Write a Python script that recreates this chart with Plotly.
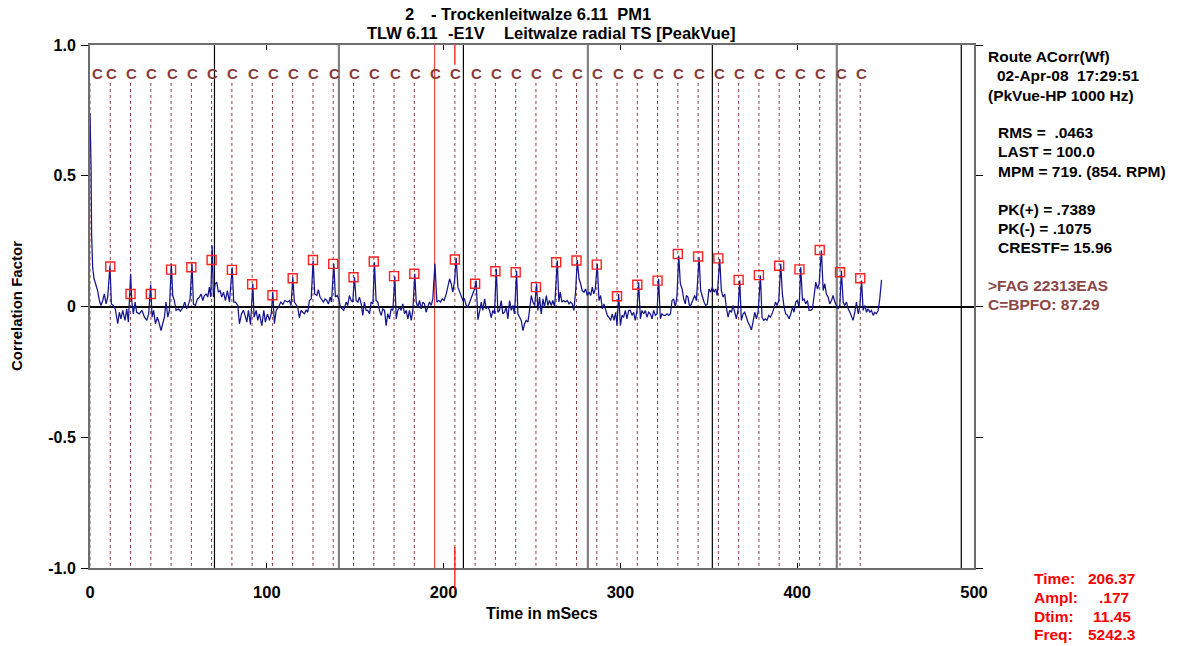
import plotly.graph_objects as go

# ---------------- data ----------------
wave_t = [0.0, 0.6, 0.9, 1.5, 2.3, 2.8, 3.4, 4.3, 5.3, 6.2, 7.2, 8.1, 9.1, 10.0, 11.3, 12.1, 13.2, 14.3, 15.7, 16.6,
          17.5, 18.5, 19.8, 20.8, 21.7, 23.0, 23.6, 24.5, 25.5, 26.4, 27.9, 29.4, 30.8, 32.1, 33.2, 34.3, 35.1, 36.0,
          37.0, 38.1, 39.2, 40.2, 41.1, 42.1, 43.0, 44.0, 44.9, 46.0, 46.8, 47.7, 48.7, 50.0, 51.1, 52.5, 53.6, 54.7,
          55.8, 56.6, 57.7, 58.5, 59.6, 60.8, 61.9, 62.8, 63.8, 64.7, 65.7, 66.6, 67.5, 68.3, 69.1, 69.8, 70.8, 71.7,
          72.6, 73.6, 74.5, 75.5, 76.6, 77.7, 78.9, 80.4, 81.3, 82.3, 83.6, 84.5, 85.7, 86.8, 87.7, 88.7, 89.6, 90.8,
          92.1, 92.8, 94.0, 94.9, 95.8, 97.2, 98.3, 99.2, 100.4, 101.5, 102.5, 103.4, 104.3, 105.3, 106.8, 107.9,
          109.1, 110.2,
          111.8, 112.8, 113.7, 114.7, 115.6, 116.6, 117.5, 118.4, 119.4, 120.3, 121.3, 122.2, 123.2, 124.1, 125.1,
          126.2, 127.1, 128.3, 129.2, 130.1, 131.1, 132.0, 133.0, 133.9, 134.9, 135.8, 136.6, 137.9, 138.8, 139.8,
          140.7, 141.7, 142.6, 143.5, 144.9, 145.8, 146.7, 147.7, 148.6, 149.6, 150.5, 151.5, 152.4, 153.4, 154.3,
          155.2, 156.2, 157.1, 158.1, 159.0, 160.0, 160.9, 161.8, 162.8, 163.7, 164.7, 165.6, 166.6, 167.5, 168.4,
          169.4, 170.3, 171.3, 172.4, 173.2, 174.1, 175.1, 176.0, 176.9, 177.9, 178.8, 179.8, 180.7, 181.7, 182.6,
          183.7, 184.5, 185.4, 186.4, 187.3, 188.3, 189.2, 190.1, 191.1, 192.0, 193.0, 193.9, 195.1, 196.2, 197.3,
          198.3, 199.2, 200.3, 201.5, 202.4, 203.4, 204.3, 205.2, 206.2, 207.1, 208.1, 209.0, 209.9, 210.9, 211.8,
          212.8, 213.7, 214.7, 215.6, 216.6, 217.5, 218.4, 219.4, 220.3, 221.3, 222.2, 223.2,
          224.1, 225.0, 226.0, 226.9, 227.9, 228.8, 229.8, 230.7, 231.6, 232.6, 233.5, 234.5, 235.4, 236.4, 237.3,
          238.3, 239.2, 240.1, 241.3, 242.0, 243.0, 243.9, 244.9, 245.8, 246.7, 247.7, 248.6, 249.6, 250.5, 251.5,
          252.6, 253.3, 254.3, 255.2, 256.2, 257.1, 258.1, 259.0, 259.9, 260.9, 261.8, 262.8, 264.3, 265.2, 266.0,
          266.9, 267.9, 268.8, 270.0, 270.9, 271.8, 272.8, 273.7, 274.7, 275.6, 276.6, 277.5, 278.4, 279.4, 280.3,
          281.3, 282.2, 283.2, 284.1, 284.9, 285.8, 286.9, 287.9, 288.8, 289.8, 290.7, 291.6, 292.6, 293.5, 294.5,
          295.4, 296.4, 297.3, 298.1, 299.0, 300.0, 300.9, 301.8, 302.8, 303.7, 304.7, 305.6, 306.6, 307.5, 308.4,
          309.4, 310.3, 311.3, 312.2, 313.2, 314.1, 315.0, 316.0, 316.9, 317.9, 318.8, 319.8, 320.7, 321.6, 322.6,
          323.5, 324.5, 325.4, 326.4, 327.3, 328.3, 329.2, 330.1, 331.1, 332.0, 333.0, 333.9, 334.9, 335.8, 336.7,
          337.3, 338.2, 339.2, 340.1, 341.1, 342.0, 343.0, 344.5, 345.4, 346.4, 347.3, 348.2, 349.2, 350.1, 351.1,
          352.0, 353.0, 353.9, 354.8, 356.2, 357.1, 358.1, 359.0, 359.9, 360.9, 361.8, 362.8, 363.7, 364.7, 365.6,
          366.5, 367.5, 368.4, 369.4, 370.3, 371.3, 372.2, 373.1, 374.1, 375.0, 376.0, 376.9, 377.9, 379.2, 380.1,
          381.1, 382.0, 382.9, 383.9, 384.8, 385.8, 386.7, 387.7, 388.6, 389.6, 390.7, 391.6, 392.6, 393.5, 394.5,
          395.4, 396.4, 397.3, 398.2, 399.2, 400.1, 401.1, 402.0, 403.0, 403.9, 404.8, 405.8, 406.7, 407.7, 408.6,
          409.6, 410.5, 411.5, 412.4, 413.7, 414.7, 415.6, 416.5, 417.5, 418.4, 419.4, 420.3, 421.3, 422.2, 423.1,
          424.1, 425.0, 426.0, 426.9, 427.9, 428.8, 429.8, 430.7, 431.6, 432.6, 433.5, 434.5, 435.4, 436.4, 437.3,
          438.2, 439.2, 440.1, 441.1, 442.0, 443.0, 443.9, 444.8, 445.8, 446.7, 447.7]

wave_v = [0.739, 0.532, 0.277, 0.150, 0.106, 0.093, 0.074, 0.061, 0.023, 0.004, 0.023, 0.048, 0.010, 0.036, 0.156,
          0.010, 0.004, -0.009, -0.066, -0.022, -0.047, -0.015, -0.053, -0.009, -0.060, 0.125, 0.023, -0.028, 0.017,
          -0.022, -0.028, -0.015, -0.041, -0.053, -0.028, 0.084, -0.041, -0.015, -0.066, -0.041, -0.066, -0.092,
          -0.066, -0.041, 0.017, -0.041, -0.015, 0.163, 0.042, 0.023, -0.015, -0.009, -0.018, -0.005, 0.017, -0.009,
          0.010, 0.029, 0.163, 0.010, 0.004, 0.029, 0.036, 0.048, 0.023, 0.042, 0.048, 0.036, 0.074, 0.036, 0.233,
          0.036, 0.087, 0.093, 0.055, 0.061, 0.036, 0.055, 0.023, 0.061, 0.017, 0.150, 0.017, 0.017, 0.004, -0.066,
          -0.028, -0.015, -0.034, -0.060, -0.015, -0.069, 0.087, -0.041, -0.015, -0.053, -0.028, -0.073, -0.015,
          -0.060, -0.028, -0.053, -0.028, 0.055, -0.066, -0.015, 0.000, 0.017, 0.008, 0.023,
          0.017, 0.023, 0.004, 0.112, 0.017, 0.004, -0.003, -0.043, -0.015, -0.022, -0.028, -0.013, -0.022, 0.023,
          0.029, 0.176, 0.048, 0.042, 0.064, 0.036, 0.023, 0.017, 0.029, 0.023, 0.010, 0.036, 0.017, 0.163, 0.036,
          0.042, 0.029, -0.003, -0.009, -0.015, 0.017, 0.004, 0.042, 0.023, 0.017, 0.112, 0.023, 0.017, 0.036, 0.010,
          -0.034, 0.017, -0.015, -0.015, -0.028, 0.017, 0.010, 0.169, 0.023, 0.017, -0.015, -0.034, -0.009, -0.015,
          -0.073, -0.028, -0.047, -0.009, -0.015, 0.115, -0.047, -0.015, -0.003, -0.015, 0.010, -0.028, -0.015,
          -0.047, -0.015, -0.053, -0.015, 0.125, 0.017, -0.003, 0.023, -0.009, 0.017, 0.010, -0.022, -0.003, 0.017,
          0.004, 0.029, 0.163, 0.017, 0.023, 0.017, 0.029, 0.023, 0.048, 0.074, 0.106, 0.087, 0.055, 0.099, 0.186,
          0.074, 0.055, 0.042, 0.023, 0.029, 0.004, -0.003, 0.017, 0.029, 0.048, 0.067, 0.099, -0.051, -0.022,
          0.017, -0.015, 0.029,
          -0.009, 0.000, -0.015, -0.043, -0.015, -0.028, 0.144, -0.022, -0.015, 0.023, -0.028, -0.022, -0.003,
          -0.047, 0.023, -0.015, 0.004, -0.028, 0.137, -0.028, -0.041, -0.053, -0.092, -0.066, -0.053, -0.060,
          -0.015, 0.042, 0.017, 0.004, 0.087, -0.015, 0.036, -0.028, 0.029, -0.003, 0.042, 0.004, 0.023, 0.004,
          0.023, -0.003, 0.176, 0.017, 0.055, 0.017, 0.023, 0.017, 0.023, 0.010, 0.017, 0.010, -0.015, 0.061,
          0.178, 0.106, 0.087, 0.061, 0.055, 0.067, 0.042, 0.055, 0.042, 0.074, 0.048, 0.067, 0.163, 0.023, 0.042,
          -0.009, 0.010, -0.015, -0.034, -0.041, -0.053, -0.028, -0.053, -0.022, -0.073, 0.048, -0.073, -0.034,
          -0.041, -0.015, -0.047, -0.015, -0.015, -0.034, -0.022, -0.053, -0.015, 0.093, -0.047, -0.015, -0.028,
          -0.015, -0.041, -0.022, -0.028, -0.047, -0.015, -0.034, -0.028, 0.106, -0.047, -0.028, -0.034, -0.034,
          -0.028, -0.034, -0.028, 0.023, 0.029, -0.003, 0.042, 0.195, 0.087, 0.067, 0.029, 0.010,
          0.042, 0.036, -0.003, 0.010, 0.029, 0.042, 0.023, 0.188, 0.061, 0.036, 0.017, 0.004, 0.010, 0.067, 0.055,
          0.074, 0.055, 0.067, 0.042, 0.182, 0.061, 0.036, 0.048, -0.003, -0.041, -0.015, -0.022, 0.004, -0.028,
          -0.047, -0.015, 0.099, -0.053, -0.028, -0.022, -0.047, -0.060, -0.073, -0.089, -0.060, -0.022, -0.047,
          -0.022, 0.118, -0.041, -0.053, -0.047, -0.053, -0.034, -0.041, -0.028, -0.009, 0.017, 0.004, 0.023, 0.163,
          0.048, -0.003, -0.028, -0.034, -0.047, -0.028, -0.003, -0.022, 0.017, 0.023, -0.003, 0.150, 0.023, 0.029,
          0.010, 0.023, -0.015, -0.015, -0.009, 0.042, 0.093, 0.067, 0.087, 0.214, 0.061, 0.087, 0.048, 0.036,
          0.010, 0.023, 0.042, 0.017, 0.004, -0.009, 0.004, 0.137, 0.017, 0.004, 0.017, -0.009, -0.022, -0.041,
          -0.053, -0.022, 0.017, -0.028, -0.003, 0.099, -0.015, 0.004, -0.022, -0.009, -0.022, -0.015, -0.034,
          -0.022, -0.028, -0.015, 0.029, 0.102]

# BPFO harmonic positions (ms) n = 0..38
harm_t = [0.0, 11.47, 22.93, 34.40, 45.86, 57.33, 68.79, 80.26, 91.72, 103.19, 114.65, 126.12, 137.58, 149.05,
          160.51, 171.98, 183.44, 194.91, 206.37, 217.84, 229.30, 240.77, 252.23, 263.70, 275.16, 286.63, 298.09,
          309.56, 321.02, 332.49, 343.95, 355.42, 366.88, 378.35, 389.81, 401.28, 412.74, 424.21, 435.67]
# marker amplitudes at harmonics 1..38 (None = no marker, harmonic 17)
harm_amp = [0.153, 0.048, 0.048, 0.141, 0.150, 0.178, 0.140, 0.085, 0.043, 0.108, 0.178, 0.163, 0.112, 0.172,
            0.116, 0.125, None, 0.180, 0.087, 0.135, 0.131, 0.074, 0.169, 0.176, 0.160, 0.039, 0.083, 0.099,
            0.201, 0.191, 0.184, 0.102, 0.120, 0.156, 0.142, 0.216, 0.131, 0.108]
highlight_harm = 194.91
cursor_t = 206.37
# shaft-speed (1x RPM) period lines, ms
rpm_t = [70.4, 140.8, 211.2, 281.6, 352.0, 422.4, 492.8]

y_ticks = [1.0, 0.5, 0.0, -0.5, -1.0]
y_tick_text = ["1.0", "0.5", "0", "-0.5", "-1.0"]
x_ticks = [0, 100, 200, 300, 400, 500]

title1_parts = ["2", "- Trockenleitwalze 6.11\u00a0\u00a0PM1"]
title2_parts = ["TLW 6.11", "-E1V", "Leitwalze radial TS [PeakVue]"]
info_head = ["Route ACorr(Wf)", "02-Apr-08\u00a0\u00a017:29:51", "(PkVue-HP 1000 Hz)"]
info_stats = ["RMS =\u00a0\u00a0.0463", "LAST = 100.0", "MPM = 719. (854. RPM)",
              "PK(+) = .7389", "PK(-) = .1075", "CRESTF= 15.96"]
info_fault = [">FAG 22313EAS", "C=BPFO: 87.29"]
cursor_labels = ["Time:", "Ampl:", "Dtim:", "Freq:"]
cursor_values = ["206.37", ".177", "11.45", "5242.3"]

# ---------------- figure ----------------
FONT = "Arial, Liberation Sans, sans-serif"
W, H = 1184, 646
L, R, T, B = 90, 210, 45, 78
PW, PH = W - L - R, H - T - B
BROWN = "#8b3a3a"


def px(xp):
    return (xp - L) / PW


def py(yp):
    return (H - B - yp) / PH


fig = go.Figure()

shapes = []
for i, t in enumerate(harm_t):
    if t == highlight_harm:
        continue
    shapes.append(dict(type="line", xref="x", yref="y", x0=t, x1=t, y0=0.855, y1=-1.0,
                       line=dict(color=BROWN, width=1, dash="dot"), layer="below"))
shapes.append(dict(type="line", xref="x", yref="y", x0=highlight_harm, x1=highlight_harm, y0=1.0, y1=-1.0,
                   line=dict(color="#e84a45", width=1.2), layer="below"))
for k, t in enumerate(rpm_t):
    if k % 2 == 0:
        shapes.append(dict(type="line", xref="x", yref="y", x0=t, x1=t, y0=1.0, y1=-1.0,
                           line=dict(color="#000000", width=1.2), layer="below"))
    else:
        shapes.append(dict(type="line", xref="x", yref="y", x0=t, x1=t, y0=1.0, y1=-1.0,
                           line=dict(color="#808080", width=2.2), layer="below"))
shapes.append(dict(type="line", xref="x", yref="paper", x0=cursor_t, x1=cursor_t, y0=1.0, y1=0.962,
                   line=dict(color="#ff0000", width=1.2)))
shapes.append(dict(type="line", xref="x", yref="paper", x0=cursor_t, x1=cursor_t, y0=0.04, y1=-0.042,
                   line=dict(color="#ff0000", width=1.2)))

fig.add_trace(go.Scatter(x=wave_t, y=wave_v, mode="lines",
                         line=dict(color="#14148c", width=1.25), hoverinfo="skip", showlegend=False))
fig.add_trace(go.Scatter(x=harm_t[1:], y=harm_amp, mode="markers",
                         marker=dict(symbol="square-open", size=9, color="#ff2020", line=dict(width=1.4)),
                         hoverinfo="skip", showlegend=False))

ann = []
for i, t in enumerate(harm_t):
    ann.append(dict(x=t, y=0.89, xref="x", yref="y", text="C", showarrow=False,
                    xanchor="left" if i == 0 else "center", xshift=0 if i == 0 else 1,
                    font=dict(family=FONT, size=15, color=BROWN, weight="bold")))


def txt(s, xp, yp, color="#000000", anchor="left", size=15.5):
    ann.append(dict(x=px(xp), y=py(yp), xref="paper", yref="paper", text=s, showarrow=False,
                    xanchor=anchor, yanchor="middle",
                    font=dict(family=FONT, size=size, color=color, weight="bold")))


txt(title1_parts[0], 409, 14, anchor="center", size=16.5)
txt(title1_parts[1], 429, 14, size=16.5)
for s, xp in zip(title2_parts, [365, 446, 502]):
    txt(s, xp, 33, size=16.5)
for s, (xp, yp) in zip(info_head, [(986, 56), (995, 75), (986, 95)]):
    txt(s, xp, yp)
for j, s in enumerate(info_stats):
    yp = [133, 152, 171, 209, 228, 247][j]
    txt(s, 996, yp)
for j, s in enumerate(info_fault):
    txt(s, 986, [285, 304][j], color="#8b4545")
for j, (lab, val) in enumerate(zip(cursor_labels, cursor_values)):
    yp = [578, 597, 616, 634][j]
    txt(lab, 1032, yp, color="#ff0000")
    txt(val, [1086, 1097, 1091, 1086][j], yp, color="#ff0000")
txt("Time in mSecs", 542, 613, anchor="center", size=16)
ann.append(dict(x=px(16), y=py(306), xref="paper", yref="paper", text="Correlation Factor", showarrow=False,
                textangle=-90, xanchor="center", yanchor="middle",
                font=dict(family=FONT, size=15, color="#000000", weight="bold")))

fig.update_layout(
    width=W, height=H, margin=dict(l=L, r=R, t=T, b=B),
    paper_bgcolor="white", plot_bgcolor="white",
    shapes=shapes, annotations=ann, showlegend=False,
    xaxis=dict(range=[0, 500], tickvals=x_ticks, ticktext=[str(v) for v in x_ticks],
               ticks="inside", ticklen=5, tickcolor="#000", showgrid=False, zeroline=False,
               showline=True, linecolor="#6e6e6e", linewidth=2, mirror="ticks",
               ticklabelstandoff=8,
               tickfont=dict(family=FONT, size=16.5, color="#000", weight="bold")),
    yaxis=dict(range=[-1, 1], tickvals=y_ticks, ticktext=y_tick_text,
               ticks="outside", ticklen=7, tickcolor="#000", showgrid=False,
               zeroline=True, zerolinecolor="#000000", zerolinewidth=1.5,
               showline=True, linecolor="#6e6e6e", linewidth=2, mirror="ticks",
               ticklabelstandoff=2,
               tickfont=dict(family=FONT, size=16, color="#000", weight="bold")),
)

fig.write_html("out.html")
